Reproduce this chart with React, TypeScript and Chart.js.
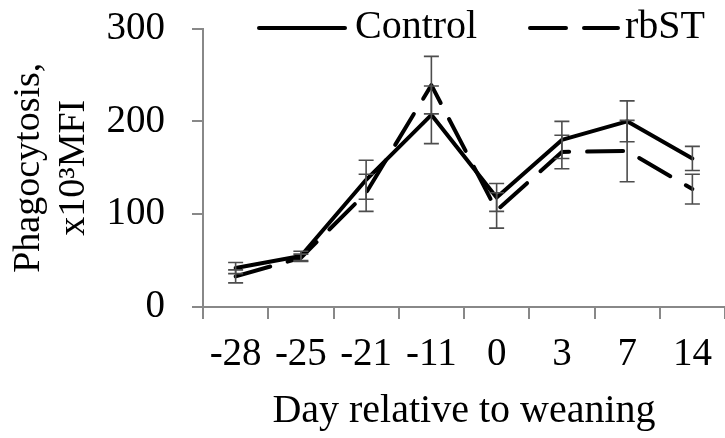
import React, { useEffect, useRef } from "react";
import { Chart, registerables } from "chart.js";

Chart.register(...registerables);

const categories = ["-28", "-25", "-21", "-11", "0", "3", "7", "14"];
const controlValues = [42, 55, 137, 207, 118, 180, 200, 160];
const controlErrors = [6, 5, 21, 31, 15, 20, 22, 13];
const rbstValues = [33, 53, 123, 239, 104, 167, 168, 127];
const rbstErrors = [7, 4, 20, 31, 19, 18, 33, 16];
const yTicks = [0, 100, 200, 300];

const FONT = "'Liberation Serif', 'Times New Roman', serif";
const AXIS_GREY = "#888888";

const errorBarPlugin = {
  id: "errorBars",
  afterDatasetsDraw(chart: any) {
    const { ctx, scales } = chart;
    const xs = scales.x;
    const ys = scales.y;
    const sets = [
      { v: controlValues, e: controlErrors },
      { v: rbstValues, e: rbstErrors },
    ];
    ctx.save();
    ctx.strokeStyle = "#4d4d4d";
    ctx.lineWidth = 1.6;
    ctx.setLineDash([]);
    sets.forEach((s) => {
      s.v.forEach((val, i) => {
        const x = xs.getPixelForValue(i);
        const yTop = ys.getPixelForValue(val + s.e[i]);
        const yBot = ys.getPixelForValue(val - s.e[i]);
        ctx.beginPath();
        ctx.moveTo(x, yTop);
        ctx.lineTo(x, yBot);
        ctx.moveTo(x - 7.5, yTop);
        ctx.lineTo(x + 7.5, yTop);
        ctx.moveTo(x - 7.5, yBot);
        ctx.lineTo(x + 7.5, yBot);
        ctx.stroke();
      });
    });
    ctx.restore();
  },
};

const topLegendPlugin = {
  id: "topLegend",
  afterDraw(chart: any) {
    const { ctx } = chart;
    const items = [
      { x0: 259, x1: 345, tx: 355 },
      { x0: 530, x1: 618, tx: 625 },
    ];
    ctx.save();
    chart.data.datasets.forEach((ds: any, i: number) => {
      const it = items[i];
      ctx.beginPath();
      ctx.strokeStyle = ds.borderColor;
      ctx.lineWidth = 4;
      ctx.lineCap = "round";
      ctx.setLineDash(ds.borderDash || []);
      ctx.moveTo(it.x0, 28);
      ctx.lineTo(it.x1, 28);
      ctx.stroke();
      ctx.setLineDash([]);
      ctx.fillStyle = "#000";
      ctx.font = `40px ${FONT}`;
      ctx.textBaseline = "alphabetic";
      ctx.textAlign = "left";
      ctx.fillText(ds.label, it.tx, 38);
    });
    ctx.restore();
  },
};

export default function App() {
  const canvasRef = useRef<HTMLCanvasElement | null>(null);

  useEffect(() => {
    if (!canvasRef.current) return;
    const chart = new Chart(canvasRef.current, {
      type: "line",
      data: {
        labels: categories,
        datasets: [
          {
            label: "Control",
            data: controlValues,
            borderColor: "#000000",
            borderWidth: 4,
            pointRadius: 0,
            tension: 0,
            borderJoinStyle: "round",
            borderCapStyle: "round",
          },
          {
            label: "rbST",
            data: rbstValues,
            borderColor: "#000000",
            borderWidth: 4,
            borderDash: [36, 18],
            pointRadius: 0,
            tension: 0,
            borderJoinStyle: "round",
            borderCapStyle: "round",
          },
        ],
      },
      options: {
        responsive: false,
        animation: false,
        devicePixelRatio: 1,
        layout: { padding: { top: 28.5, left: 0, right: 0, bottom: 0 } },
        plugins: {
          legend: { display: false },
          tooltip: { enabled: false },
        },
        scales: {
          x: {
            type: "category",
            offset: true,
            grid: {
              offset: true,
              drawOnChartArea: false,
              drawTicks: true,
              tickLength: 12,
              color: AXIS_GREY,
              lineWidth: 2,
            },
            border: { display: true, color: AXIS_GREY, width: 2 },
            ticks: {
              color: "#000",
              font: { family: FONT, size: 39, lineHeight: 1.2 },
              padding: 12,
              maxRotation: 0,
              autoSkip: false,
            },
            title: {
              display: true,
              text: "Day relative to weaning",
              color: "#000",
              font: { family: FONT, size: 40, lineHeight: 1.2 },
              padding: { top: 0, bottom: 3 },
            },
            afterFit(scale: any) {
              scale.height = 131;
              scale.paddingLeft = 0;
              scale.paddingRight = 0;
            },
          },
          y: {
            min: 0,
            max: 300,
            afterBuildTicks(scale: any) {
              scale.ticks = yTicks.map((v) => ({ value: v }));
            },
            grid: {
              drawOnChartArea: false,
              drawTicks: true,
              tickLength: 11,
              color: AXIS_GREY,
              lineWidth: 2,
            },
            border: { display: true, color: AXIS_GREY, width: 2 },
            ticks: {
              color: "#000",
              font: { family: FONT, size: 39 },
              padding: 27,
            },
            title: {
              display: true,
              text: ["Phagocytosis,", "x10³MFI"],
              color: "#000",
              font: { family: FONT, size: 38, lineHeight: 1.18 },
              padding: { top: 7, bottom: 0 },
            },
            afterFit(scale: any) {
              scale.width = 203;
              scale.paddingTop = 0;
              scale.paddingBottom = 0;
            },
          },
        },
      },
      plugins: [errorBarPlugin, topLegendPlugin],
    } as any);
    return () => chart.destroy();
  }, []);

  return (
    <div style={{ position: "absolute", left: 0, top: 0, width: 725, height: 438, background: "#fff" }}>
      <canvas ref={canvasRef} width={725} height={438} style={{ display: "block" }} />
    </div>
  );
}
